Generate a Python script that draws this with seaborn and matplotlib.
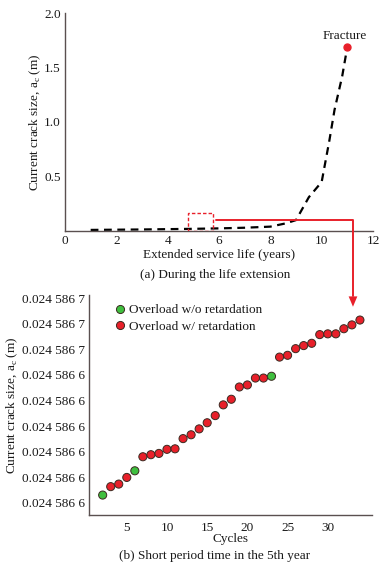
import numpy as np
import pandas as pd
import matplotlib
matplotlib.use("Agg")
import matplotlib.pyplot as plt
import seaborn as sns

sns.set_theme(style="white")
plt.rcParams['font.family'] = ['Liberation Serif', 'DejaVu Serif']

# ---- panel (a) data ----
life_years = [1.0, 2.0, 3.0, 4.0, 5.0, 6.0, 7.0, 8.0, 8.6, 9.0, 9.5, 10.0, 10.3, 10.5, 10.8, 11.0]
crack_size = [0.01, 0.012, 0.014, 0.017, 0.02, 0.024, 0.03, 0.04, 0.07, 0.10, 0.31, 0.45, 0.83, 1.11, 1.42, 1.69]
fracture_x = [11.0]
fracture_y = [1.69]
xticks_a = [0, 2, 4, 6, 8, 10, 12]
yticks_a = [0.5, 1.0, 1.5, 2.0]

# ---- panel (b) data ----
cycles = list(range(2, 35))
crack_units = [0.30, 0.63, 0.73, 0.99, 1.25, 1.80, 1.88, 1.93, 2.09, 2.11, 2.51,
               2.66, 2.89, 3.13, 3.41, 3.83, 4.05, 4.53, 4.61, 4.88, 4.88, 4.95,
               5.70, 5.77, 6.03, 6.15, 6.24, 6.58, 6.61, 6.61, 6.81, 6.96, 7.15]
green_cycles = [2, 6, 23]
overload_type = ["Overload w/o retardation" if c in green_cycles else "Overload w/ retardation"
                 for c in cycles]
yticks_b = list(range(9))
ytick_labels_b = ["0.024 586 6"] * 6 + ["0.024 586 7"] * 3
xticks_b = [5, 10, 15, 20, 25, 30]

W, H = 388, 569
fig = plt.figure(figsize=(W / 100, H / 100), dpi=100)
fig.patch.set_facecolor("white")

spine_col = "#5a5050"
txt_col = "#1a1a1a"
red = "#e8202a"
fs_tick = 9.5
fs_lab = 9.5

# ---------- panel (a) ----------
ax1 = fig.add_axes([65 / W, 1 - 231 / H, 308 / W, 218 / H])
ax1.set_zorder(2)
ax1.set_facecolor("none")
dfa = pd.DataFrame({"life": life_years, "size": crack_size})
sns.lineplot(data=dfa, x="life", y="size", ax=ax1, color="black", lw=1.6,
             linestyle=(0, (3.5, 2.5)))
ax1.plot(fracture_x, fracture_y, "o", color=red, ms=5, zorder=5)
ax1.text(fracture_x[0] - 0.1, fracture_y[0] + 0.1, "Fracture", ha="center", va="center",
         fontsize=fs_lab, color=txt_col)
ax1.set_xlim(0, 12)
ax1.set_ylim(0, 2.0)
ax1.set_xticks(xticks_a)
ax1.set_yticks(yticks_a)
ax1.set_yticklabels([f"{v:.1f}" for v in yticks_a])
ax1.set_xlabel("Extended service life (years)", fontsize=fs_lab, color=txt_col, labelpad=1)
ax1.set_ylabel("Current crack size, a$_\\mathregular{c}$ (m)", fontsize=fs_lab, color=txt_col, labelpad=1)
for s in ["top", "right"]:
    ax1.spines[s].set_visible(False)
for s in ["left", "bottom"]:
    ax1.spines[s].set_color(spine_col)
    ax1.spines[s].set_linewidth(1.0)
ax1.tick_params(axis="both", labelsize=fs_tick, colors=txt_col, length=2, direction="in", pad=3)

# red dashed rectangle (zoom window)
ax1.add_patch(plt.Rectangle((4.8, 0.0), 0.95, 0.165, fill=False, ec=red,
                            lw=1.0, ls=(0, (2.5, 1.5)), zorder=4))
# red connector with arrow head
arrow_x = 11.22
ax1.plot([5.9, arrow_x, arrow_x], [0.098, 0.098, -0.6], color=red, lw=1.4,
         clip_on=False, zorder=4)
ax1.fill([arrow_x - 0.17, arrow_x + 0.17, arrow_x], [-0.6, -0.6, -0.695],
         color=red, clip_on=False, zorder=4, lw=0)

fig.text(215 / W, 1 - 275 / H, "(a) During the life extension", ha="center", va="center",
         fontsize=fs_lab, color=txt_col)

# ---------- panel (b) ----------
ax2 = fig.add_axes([89 / W, 1 - 515 / H, 283 / W, 220 / H])
ax2.set_zorder(1)
ax2.set_facecolor("none")
dfb = pd.DataFrame({"cycle": cycles, "size": crack_units, "type": overload_type})
sns.scatterplot(data=dfb, x="cycle", y="size", hue="type",
                hue_order=["Overload w/o retardation", "Overload w/ retardation"],
                palette={"Overload w/o retardation": "#3fbf3f",
                         "Overload w/ retardation": red},
                s=34, edgecolor="#3a2a20", linewidth=0.7, ax=ax2, zorder=3)
ax2.set_xlim(0.3, 35.5)
ax2.set_ylim(-0.48, 8.13)
ax2.set_xticks(xticks_b)
ax2.set_yticks(yticks_b)
ax2.set_yticklabels(ytick_labels_b)
ax2.set_xlabel("Cycles", fontsize=fs_lab, color=txt_col, labelpad=-1)
ax2.set_ylabel("Current crack size, a$_\\mathregular{c}$ (m)", fontsize=fs_lab, color=txt_col, labelpad=1)
for s in ["top", "right"]:
    ax2.spines[s].set_visible(False)
for s in ["left", "bottom"]:
    ax2.spines[s].set_color(spine_col)
    ax2.spines[s].set_linewidth(1.0)
ax2.tick_params(axis="both", labelsize=fs_tick, colors=txt_col, length=2, direction="in", pad=3)
ax2.tick_params(axis="x", pad=5)
leg = ax2.legend(loc="upper left", frameon=False, fontsize=fs_lab, handletextpad=-0.3,
                 borderaxespad=0.3, labelspacing=0.3, markerscale=1.0,
                 bbox_to_anchor=(0.03, 1.0))
for t in leg.get_texts():
    t.set_color(txt_col)

fig.text(215 / W, 1 - 556 / H, "(b) Short period time in the 5th year", ha="center",
         va="center", fontsize=fs_lab, color=txt_col)

fig.savefig("out.png", dpi=100, facecolor="white")
